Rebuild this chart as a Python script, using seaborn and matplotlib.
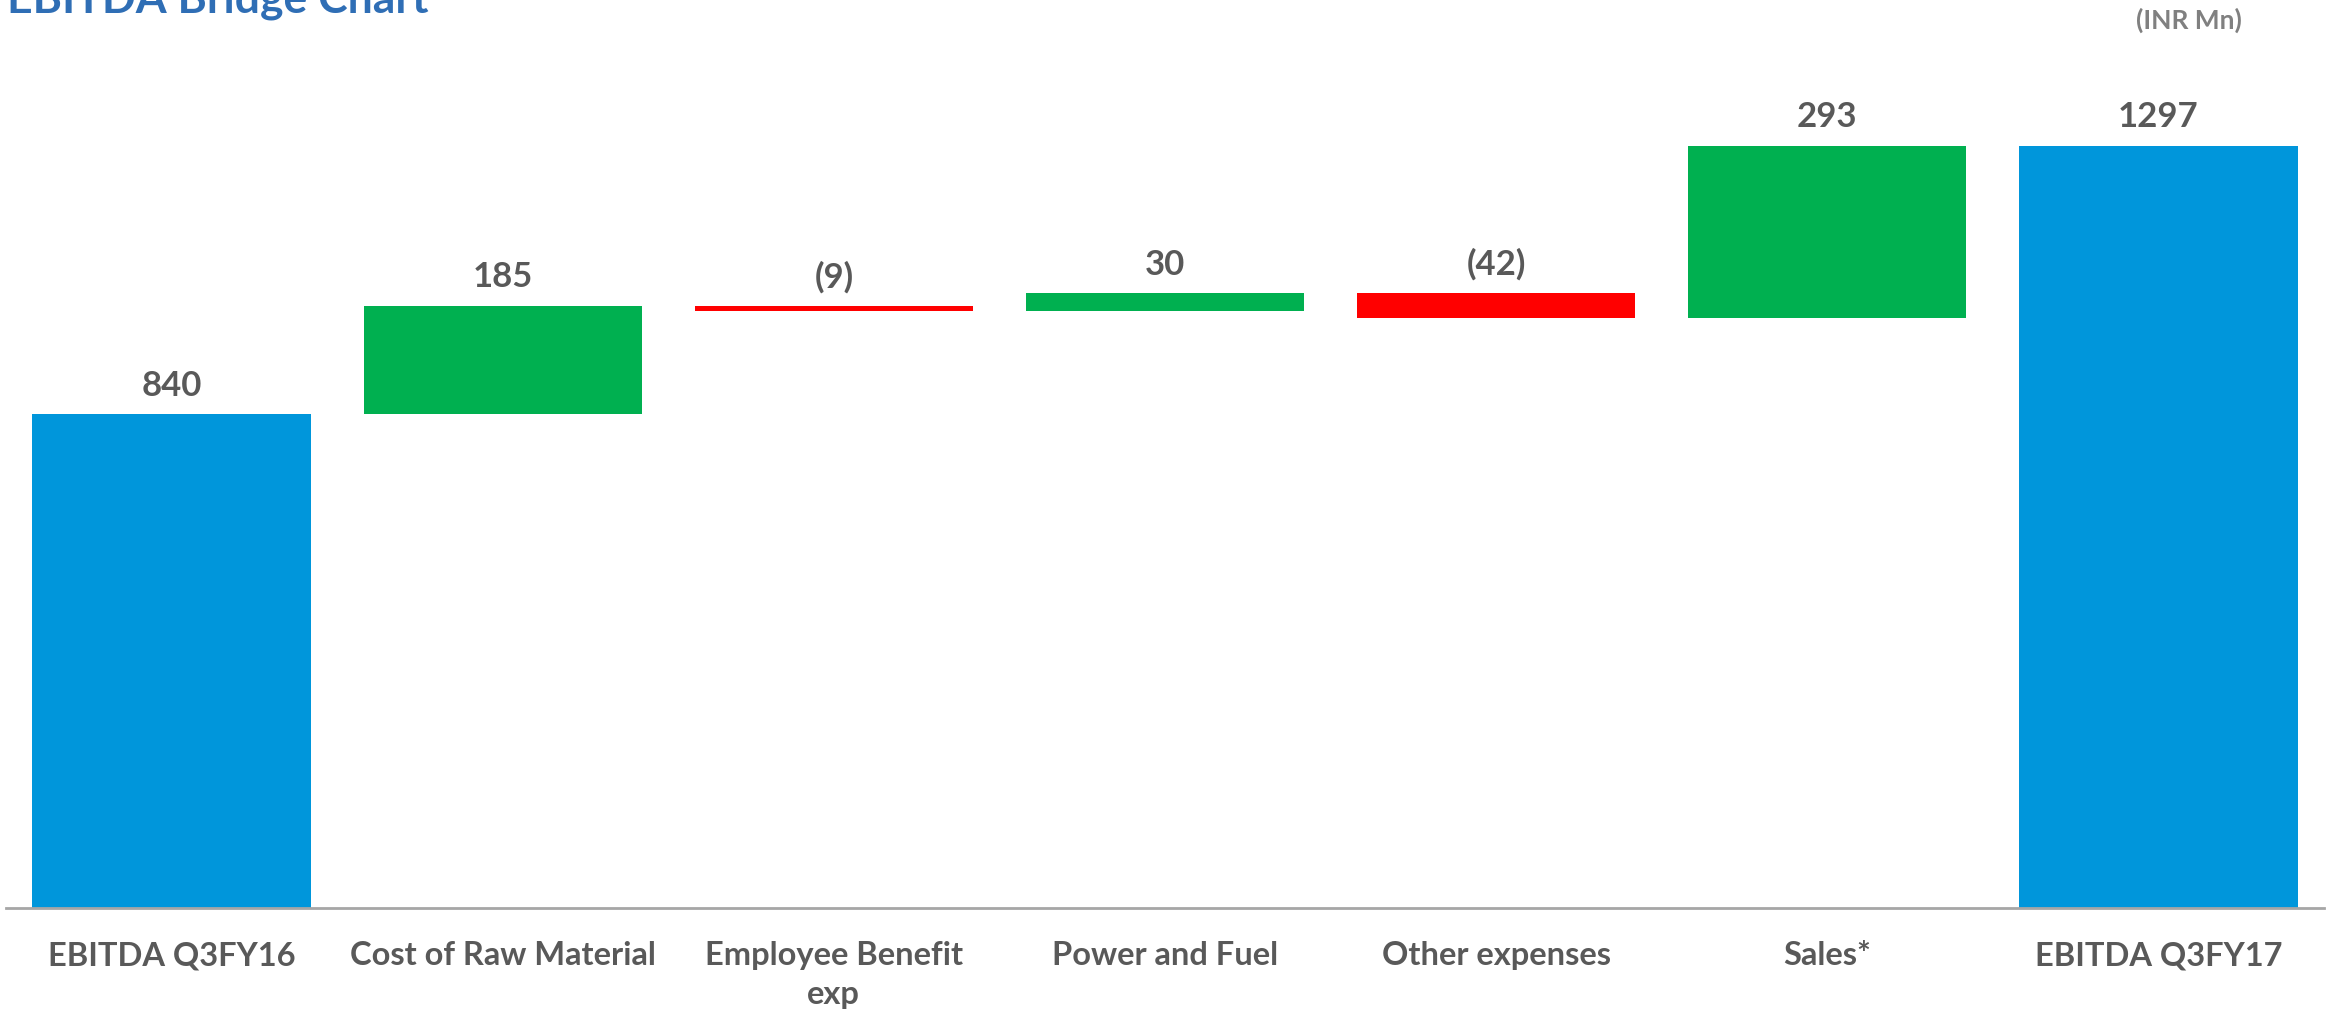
import numpy as np
import matplotlib
matplotlib.use("Agg")
import matplotlib.pyplot as plt
import seaborn as sns

# bridge data (INR Mn)
categories = ["EBITDA Q3FY16", "Cost of Raw Material", "Employee Benefit\nexp",
              "Power and Fuel", "Other expenses", "Sales*", "EBITDA Q3FY17"]
values = [840, 185, -9, 30, -42, 293, 1297]
is_total = [True, False, False, False, False, False, True]

BLUE = "#0096DB"
GREEN = "#00B050"
RED = "#FF0000"
GREY_TXT = "#595959"

sns.set_theme(style="white")
plt.rcParams["font.family"] = ["Lato", "DejaVu Sans"]

# running totals -> bar bottoms / heights
bottoms, heights, colors = [], [], []
running = 0
for v, tot in zip(values, is_total):
    if tot:
        bottoms.append(0)
        heights.append(v)
        colors.append(BLUE)
        running = v
    else:
        start = running
        running = running + v
        bottoms.append(min(start, running))
        heights.append(abs(v))
        colors.append(GREEN if v > 0 else RED)
bottoms = np.array(bottoms)
heights = np.array(heights)

fig = plt.figure(figsize=(23.3, 10.23), dpi=100)
ax = fig.add_axes([6 / 2330, 1 - 908 / 1023, 2318 / 2330, 888 / 1023])

sns.barplot(x=categories, y=heights, bottom=bottoms, color=BLUE,
            width=0.84, linewidth=0, ax=ax)
for patch, c in zip(ax.patches, colors):
    patch.set_facecolor(c)

ax.set_ylim(0, 1511)
ax.set_xlim(-0.5, 6.5)

for i, v in enumerate(values):
    top = bottoms[i] + heights[i]
    txt = f"({abs(v)})" if v < 0 else str(v)
    ax.annotate(txt, (i, top), xytext=(0, 9), textcoords="offset points",
                ha="center", va="bottom", fontsize=25, fontweight="bold",
                color=GREY_TXT)

sns.despine(ax=ax, left=True, top=True, right=True)
ax.spines["bottom"].set_color("#A6A6A6")
ax.spines["bottom"].set_linewidth(2)
ax.set_yticks([])
ax.tick_params(axis="x", length=0, pad=24)
for lab in ax.get_xticklabels():
    lab.set_fontsize(23.5)
    lab.set_fontweight("bold")
    lab.set_color(GREY_TXT)
    lab.set_linespacing(1.4)
    lab.set_verticalalignment("top")

fig.text(7 / 2330, 1 - 12 / 1023, "EBITDA Bridge Chart", ha="left", va="baseline",
         fontsize=32, fontweight="bold", color="#2F6EB5")
fig.text(2242 / 2330, 1 - 29 / 1023, "(INR Mn)", ha="right", va="baseline",
         fontsize=19, fontweight="bold", color="#808080")

fig.savefig("out.png", dpi=100)
